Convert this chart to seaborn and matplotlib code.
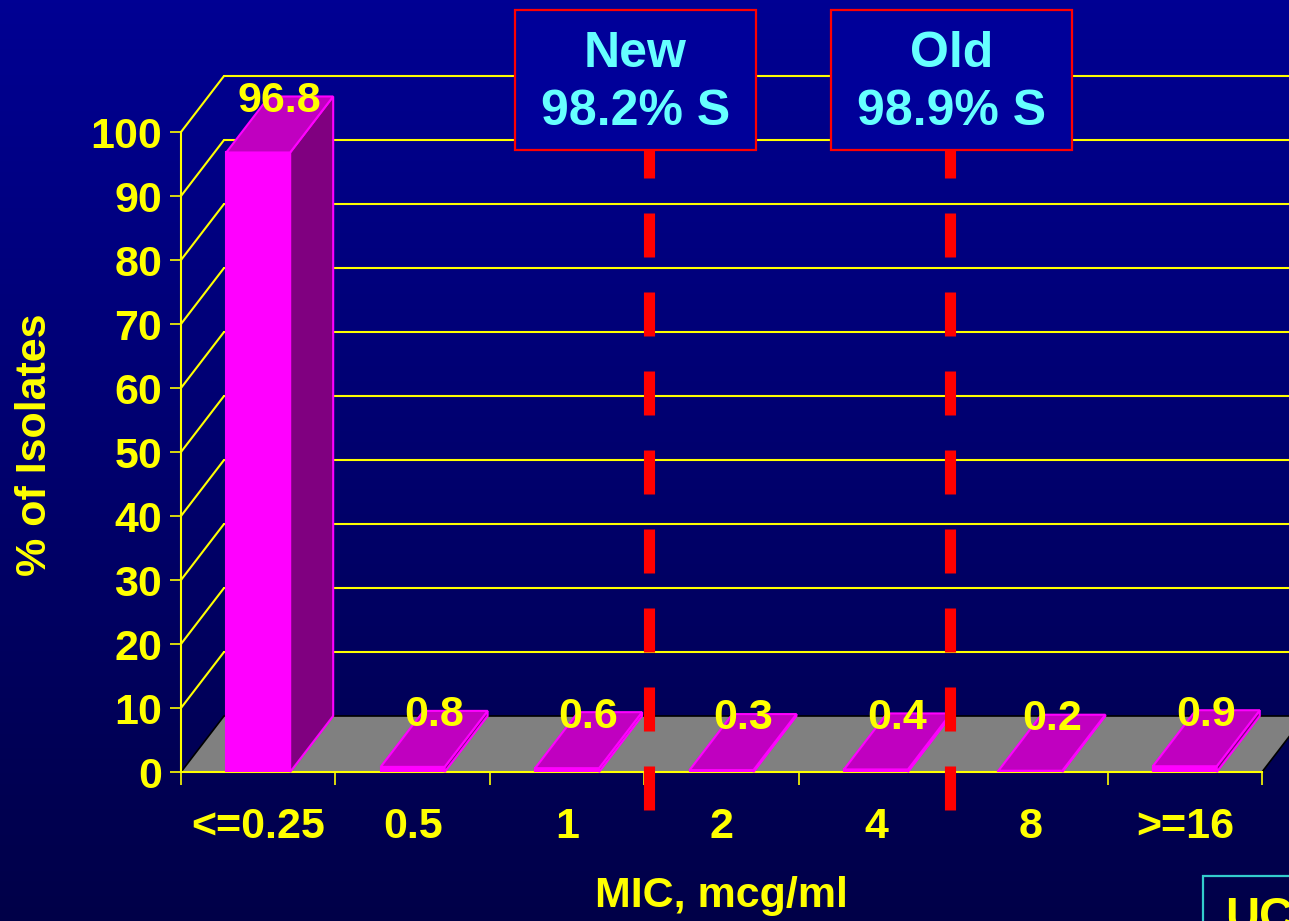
import numpy as np
import pandas as pd
import matplotlib
matplotlib.use("Agg")
import matplotlib.pyplot as plt
from matplotlib.patches import Polygon, Rectangle
import seaborn as sns

# MIC distribution of isolates
mic_labels = ["<=0.25", "0.5", "1", "2", "4", "8", ">=16"]
pct_isolates = [96.8, 0.8, 0.6, 0.3, 0.4, 0.2, 0.9]
y_ticks = [0, 10, 20, 30, 40, 50, 60, 70, 80, 90, 100]

# Susceptibility breakpoint call-outs
breakpoint_titles = ["New", "Old"]
breakpoint_pct = ["98.2% S", "98.9% S"]

sns.set_style("ticks")
plt.rcParams["font.family"] = ["Liberation Sans", "DejaVu Sans"]
plt.rcParams["font.weight"] = "bold"
plt.rcParams["axes.labelweight"] = "bold"

W, H = 1289, 921
YELLOW = "#FFFF00"
MAGENTA = "#FF00FF"
SIDE = "#800080"
TOP = "#C000C0"
CYAN = "#66FFFF"
RED = "#FF0000"
FS = 31

fig = plt.figure(figsize=(W / 100, H / 100), dpi=100)

# dark-blue vertical gradient background
bg = fig.add_axes([0, 0, 1, 1], zorder=-10)
top_c = np.array([0x00, 0x00, 0x93]) / 255
bot_c = np.array([0x00, 0x00, 0x48]) / 255
t = np.linspace(0, 1, 256)[:, None]
grad = (top_c[None, :] * (1 - t) + bot_c[None, :] * t)[:, None, :]
bg.imshow(grad, aspect="auto", extent=[0, 1, 0, 1])
bg.set_axis_off()

# front plane of the 3-D chart
ax = fig.add_axes([181 / W, (H - 772) / H, 1081 / W, 640 / H])
ax.set_facecolor("none")

df = pd.DataFrame({"mic": mic_labels, "pct": pct_isolates})
sns.barplot(data=df, x="mic", y="pct", order=mic_labels, color=MAGENTA,
            saturation=1, width=0.414, edgecolor=MAGENTA, linewidth=1.5,
            ax=ax, zorder=3)

ax.set_xlim(-0.5, 6.5)
ax.set_ylim(0, 100)

# depth vector (data units)
DX = 43 / (1081 / 7)
DY = 56 / 6.4

# floor
floor = Polygon([(-0.5, 0), (6.5, 0), (6.5 + DX, DY), (-0.5 + DX, DY)],
                closed=True, facecolor="#808080", edgecolor="black",
                linewidth=1.2, zorder=1, clip_on=False)
ax.add_patch(floor)

# side wall and back wall grid lines
for y in y_ticks[1:]:
    ax.plot([-0.5, -0.5 + DX], [y, y + DY], color=YELLOW, lw=1.5,
            clip_on=False, zorder=1.5)
    ax.plot([-0.5 + DX, 7.5], [y + DY, y + DY], color=YELLOW, lw=1.5,
            clip_on=False, zorder=1.5)

# 3-D faces of each bar and value labels
for p, v in zip(ax.patches, pct_isolates):
    x0 = p.get_x()
    x1 = x0 + p.get_width()
    h = p.get_height()
    side = Polygon([(x1, 0), (x1, h), (x1 + DX, h + DY), (x1 + DX, DY)],
                   closed=True, facecolor=SIDE, edgecolor=MAGENTA,
                   linewidth=1.5, zorder=3, clip_on=False)
    top = Polygon([(x0, h), (x1, h), (x1 + DX, h + DY), (x0 + DX, h + DY)],
                  closed=True, facecolor=TOP, edgecolor=MAGENTA,
                  linewidth=1.5, zorder=3, clip_on=False)
    ax.add_patch(side)
    ax.add_patch(top)
    ax.text((x0 + x1) / 2 + DX / 2, h + DY - 2.4, f"{v}", ha="center",
            va="baseline", color=YELLOW, fontsize=FS, fontweight="bold",
            zorder=6, clip_on=False)

# breakpoint dashed lines
for xb in [2.53, 4.48]:
    ax.plot([xb, xb], [-5.94, 98], color=RED, lw=8,
            linestyle=(0, (3.96, 3.15)), solid_capstyle="butt",
            dash_capstyle="butt", clip_on=False, zorder=7)

# spines and ticks
for s in ["top", "right"]:
    ax.spines[s].set_visible(False)
for s in ["left", "bottom"]:
    ax.spines[s].set_color(YELLOW)
    ax.spines[s].set_linewidth(1.5)
    ax.spines[s].set_zorder(2)

ax.set_yticks(y_ticks)
ax.set_yticklabels([str(v) for v in y_ticks])
ax.tick_params(axis="y", colors=YELLOW, length=8, width=1.2, pad=5.5,
               labelsize=FS)
ax.set_xticks(range(len(mic_labels)))
ax.set_xticklabels(mic_labels)
ax.set_xticks(np.arange(-0.5, len(mic_labels), 1), minor=True)
ax.tick_params(axis="x", which="major", length=0, pad=25, colors=YELLOW,
               labelsize=FS)
ax.tick_params(axis="x", which="minor", length=9.4, width=1.2, color=YELLOW)
for lbl in ax.get_xticklabels() + ax.get_yticklabels():
    lbl.set_fontweight("bold")

ax.set_xlabel("MIC, mcg/ml", fontsize=FS, color=YELLOW, fontweight="bold")
ax.xaxis.set_label_coords((721 - 181) / 1081, (772 - 896) / 640)
ax.xaxis.label.set_va("center")
ax.set_ylabel("% of Isolates", fontsize=FS, color=YELLOW, fontweight="bold")
ax.yaxis.set_label_coords((35 - 181) / 1081, (772 - 445) / 640)
ax.yaxis.label.set_va("center")

# call-out boxes
for (bx0, bx1), title, pct in zip([(515, 756), (831, 1072)],
                                  breakpoint_titles, breakpoint_pct):
    fig.patches.append(Rectangle((bx0 / W, 1 - 150 / H), (bx1 - bx0) / W,
                                 140 / H, transform=fig.transFigure,
                                 facecolor="#000099", edgecolor=RED,
                                 linewidth=1.6, zorder=8))
    fig.text((bx0 + bx1) / 2 / W, 1 - 83 / H, f"{title}\n{pct}",
             ha="center", va="center", color=CYAN, fontsize=36,
             fontweight="bold", linespacing=1.36, zorder=9)

# corner label box
fig.patches.append(Rectangle((1203 / W, -0.1), 0.2, (921 - 876) / H + 0.1,
                             transform=fig.transFigure, facecolor="none",
                             edgecolor="#33CCCC", linewidth=1.6, zorder=8))
fig.text(1225 / W, 1 - 896 / H, "UC", ha="left", va="top", color=YELLOW,
         fontsize=34, fontweight="bold", zorder=9)

fig.savefig("out.png", dpi=100)
